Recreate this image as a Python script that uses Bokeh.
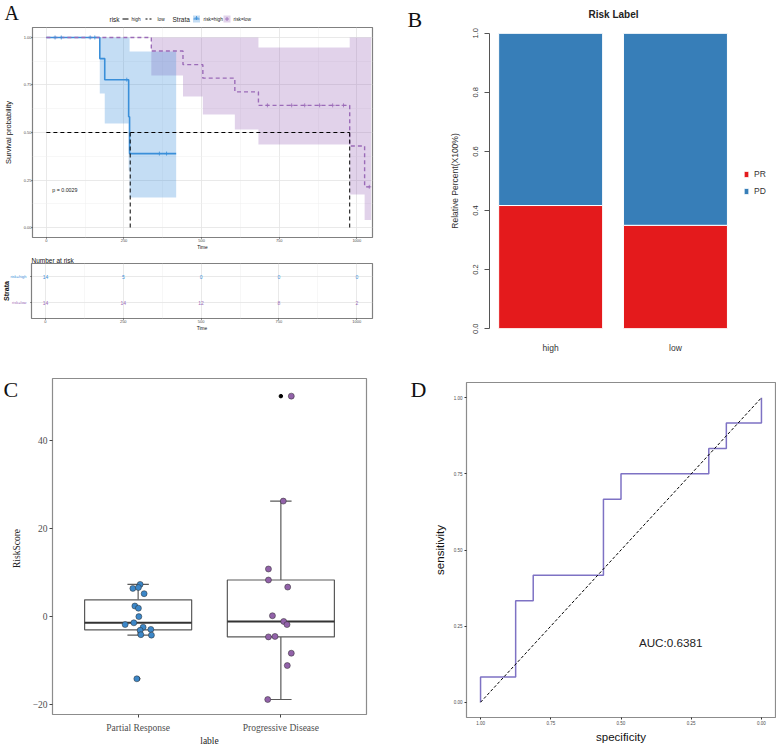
import numpy as np
from bokeh.plotting import figure
from bokeh.models import Range1d, FixedTicker, Legend, LegendItem, NumeralTickFormatter
from bokeh.layouts import row, column
from bokeh.embed import file_html
from bokeh.resources import INLINE
from bokeh.core.properties import value

SANS = "Liberation Sans"
SERIF = "Liberation Serif"
BLUE = "#3A8FD9"
PURPLE = "#9B6BB8"

# ---------------- Panel A : Kaplan-Meier ----------------
time_ticks = [0, 250, 500, 750, 1000]
surv_ticks = [0.0, 0.25, 0.5, 0.75, 1.0]
high_time = [0, 172, 188, 265, 268, 418]
high_surv = [1.0, 0.889, 0.778, 0.583, 0.389, 0.389]
high_lower = [1.0, 0.705, 0.547, 0.30, 0.158, 0.158]
high_upper = [1.0, 1.0, 1.0, 1.0, 0.926, 0.926]
high_censor_time = [28, 48, 141, 156, 259, 364, 387]
high_censor_surv = [1.0, 1.0, 1.0, 1.0, 0.778, 0.389, 0.389]
low_time = [0, 338, 440, 504, 607, 683, 977, 1025, 1046]
low_surv = [1.0, 0.929, 0.857, 0.786, 0.714, 0.643, 0.429, 0.214, 0.214]
low_lower = [1.0, 0.80, 0.69, 0.595, 0.516, 0.437, 0.174, 0.04, 0.04]
low_upper = [1.0, 1.0, 1.0, 1.0, 1.0, 0.947, 1.0, 1.0, 1.0]
low_censor_time = [712, 790, 832, 880, 922, 957, 1040]
low_censor_surv = [0.643, 0.643, 0.643, 0.643, 0.643, 0.643, 0.214]
median_high = 270
median_low = 977
p_value_text = "p = 0.0029"
p_value_pos = (19, 0.195)
strata_labels = ["risk=high", "risk=low"]
risk_counts_high = [14, 5, 0, 0, 0]
risk_counts_low = [14, 14, 12, 8, 2]

# ---------------- Panel B : stacked bars ----------------
risk_groups = ["high", "low"]
pr_frac = [0.417, 0.350]
pd_frac = [round(1 - v, 3) for v in pr_frac]
b_ticks = [0.0, 0.2, 0.4, 0.6, 0.8, 1.0]

# ---------------- Panel C : boxplot ----------------
c_groups = ["Partial Response", "Progressive Disease"]
pr_scores = [7.3, 6.4, 6.6, 5.2, 2.4, 1.9, 0.0, -1.8, -1.4, -2.4, -3.1, -2.9, -4.1, -4.2, -14.1]
pr_jitter = [0.014, -0.037, 0.002, 0.042, -0.023, 0.002, 0.005, -0.091, -0.030, 0.035, 0.014, 0.089, 0.019, 0.093, -0.009]
pd_scores = [50.0, 26.2, 10.8, 8.3, 6.7, 0.2, -1.1, -1.8, -4.6, -4.5, -8.3, -11.1, -18.8]
pd_jitter = [0.073, 0.017, -0.087, -0.087, 0.048, -0.059, 0.020, 0.043, -0.087, -0.041, 0.073, 0.045, -0.092]
c_ticks = [-20, 0, 20, 40]

# ---------------- Panel D : ROC ----------------
roc_spec = [1.0, 1.0, 0.875, 0.875, 0.8125, 0.8125, 0.5625, 0.5625, 0.5, 0.5, 0.1875, 0.1875, 0.125, 0.125, 0.0, 0.0]
roc_sens = [0.0, 0.0833, 0.0833, 0.3333, 0.3333, 0.4167, 0.4167, 0.6667, 0.6667, 0.75, 0.75, 0.8333, 0.8333, 0.9167, 0.9167, 1.0]
chance_spec = [1.0, 0.0]
chance_sens = [0.0, 1.0]
auc_text = "AUC:0.6381"
auc_pos = (0.323, 0.197)
d_ticks = [0.0, 0.25, 0.5, 0.75, 1.0]


def mk(width, height, xr, yr, **kw):
    p = figure(width=width, height=height, x_range=xr, y_range=yr,
               output_backend="svg", toolbar_location=None, **kw)
    p.frame_align = False
    p.title.visible = False
    p.background_fill_color = "white"
    p.border_fill_color = "white"
    return p


def strip(w, h):
    """Blank figure in pixel coordinates (y downwards) for panel letters and side texts."""
    s = mk(w, h, Range1d(0, w), Range1d(h, 0), x_axis_type=None, y_axis_type=None,
           min_border_left=0, min_border_right=0, min_border_top=0, min_border_bottom=0)
    s.outline_line_color = None
    return s


def letter(s, text, x, y, size="22px", baseline="alphabetic"):
    s.text(x=[x], y=[y], text=[text], text_font=value(SERIF), text_font_size=size,
           text_baseline=baseline, text_color="#111111")


def steps(t, *ys):
    xs = []
    outs = [[] for _ in ys]
    for i in range(len(t)):
        if i > 0:
            xs.append(t[i])
            for o, y in zip(outs, ys):
                o.append(y[i - 1])
        xs.append(t[i])
        for o, y in zip(outs, ys):
            o.append(y[i])
    return [xs] + outs


def mids(ticks):
    return [(a + b) / 2 for a, b in zip(ticks[:-1], ticks[1:])]


def gg_style(p, tick_font="4px"):
    p.outline_line_color = "#808080"
    p.outline_line_width = 1.2
    for ax in p.axis:
        ax.axis_line_color = None
        ax.major_tick_out = 1
        ax.major_tick_in = 0
        ax.minor_tick_out = 0
        ax.minor_tick_in = 0
        ax.major_tick_line_color = "#333333"
        ax.major_label_text_font = SANS
        ax.major_label_text_font_size = tick_font
        ax.major_label_text_color = "#4D4D4D"
        ax.major_label_standoff = 0
        ax.axis_label_text_font = SANS
        ax.axis_label_text_font_style = "normal"
        ax.axis_label_text_color = "#111111"


# ---- A legend strip (pixel coordinates)
pAL = strip(390, 27)
letter(pAL, "A", 4, 1.5, size="20px", baseline="top")
pAL.text(x=[109, 172], y=[18.5, 18.5], text=["risk", "Strata"], text_font=value(SANS),
         text_font_size="6.5px", text_baseline="middle", text_color="#222222")
pAL.text(x=[131, 157, 203, 233], y=[18.5] * 4, text=["high", "low", "risk=high", "risk=low"],
         text_font=value(SANS), text_font_size="4.8px", text_baseline="middle", text_color="#222222")
pAL.segment(x0=[122], x1=[128], y0=[18.5], y1=[18.5], line_color="black", line_width=1.2)
pAL.segment(x0=[145], x1=[153], y0=[18.5], y1=[18.5], line_color="black", line_width=1.2, line_dash="2 2")
pAL.rect(x=[196, 226.5], y=[18.5, 18.5], width=7, height=7, fill_color=[BLUE, PURPLE], fill_alpha=0.3,
         line_color=None)
pAL.segment(x0=[193], x1=[199], y0=[18.5], y1=[18.5], line_color=BLUE, line_width=1)
pAL.scatter(x=[196, 226.5], y=[17.5, 18.5], marker="cross", size=4, line_color=[BLUE, PURPLE], line_width=0.8)

# ---- A survival plot
pA = mk(390, 227, Range1d(-44.7, 1050.4), Range1d(-0.0526, 1.0526),
        min_border_left=29, min_border_right=18, min_border_top=0, min_border_bottom=17)
gg_style(pA)
pA.xaxis.ticker = FixedTicker(ticks=time_ticks, minor_ticks=mids(time_ticks))
pA.yaxis.ticker = FixedTicker(ticks=surv_ticks, minor_ticks=mids(surv_ticks))
pA.yaxis.formatter = NumeralTickFormatter(format="0.00")
pA.xaxis.axis_label = "Time"
pA.xaxis.axis_label_text_font_size = "4.8px"
pA.xaxis.axis_label_standoff = 0
pA.yaxis.axis_label = "Survival probability"
pA.yaxis.axis_label_text_font_size = "7.5px"
pA.yaxis.axis_label_standoff = 8
pA.grid.grid_line_color = "#E3E3E3"
pA.grid.grid_line_width = 0.8
pA.grid.minor_grid_line_color = "#EFEFEF"
pA.grid.minor_grid_line_width = 0.5

lx, llo, lhi = steps(low_time, low_lower, low_upper)
pA.varea(x=lx, y1=llo, y2=lhi, fill_color=PURPLE, fill_alpha=0.3)
hx, hlo, hhi = steps(high_time, high_lower, high_upper)
pA.varea(x=hx, y1=hlo, y2=hhi, fill_color=BLUE, fill_alpha=0.3)
hsx, hsy = steps(high_time, high_surv)
pA.line(hsx, hsy, line_color=BLUE, line_width=1.6)
lsx, lsy = steps(low_time, low_surv)
pA.line(lsx, lsy, line_color=PURPLE, line_width=1.4, line_dash="4 3")
pA.scatter(high_censor_time, high_censor_surv, marker="cross", size=4, line_color=BLUE, line_width=0.8)
pA.scatter(low_censor_time, low_censor_surv, marker="cross", size=4, line_color=PURPLE, line_width=0.8)
pA.segment(x0=[0, median_high, median_low], y0=[0.5, 0.5, 0.5],
           x1=[median_low, median_high, median_low], y1=[0.5, 0.0, 0.0],
           line_color="black", line_width=1, line_dash="4 3")
pA.text(x=[p_value_pos[0]], y=[p_value_pos[1]], text=[p_value_text], text_font=value(SANS),
        text_font_size="5.3px", text_baseline="middle", text_color="#222222")

# ---- A risk table (strip with strata names + table figure)
sT = strip(27, 110)
sT.text(x=[6], y=[36.5], text=["Strata"], angle=np.pi / 2, text_font=value(SANS), text_font_size="7px",
        text_font_style="bold", text_align="center", text_baseline="middle", text_color="#111111")
sT.text(x=[26, 26], y=[22, 48], text=strata_labels, text_font=value(SANS), text_font_size="4px",
        text_align="right", text_baseline="middle", text_color=[BLUE, PURPLE])

pT = mk(363, 110, Range1d(-44.7, 1050.4), Range1d(0.385, 2.5),
        min_border_left=2, min_border_right=18, min_border_top=9, min_border_bottom=46)
pT.title.visible = True
pT.title.text = "Number at risk"
pT.title.text_font = SANS
pT.title.text_font_size = "6.5px"
pT.title.text_font_style = "normal"
pT.title.standoff = 0
pT.title.text_color = "#111111"
gg_style(pT)
pT.xaxis.ticker = FixedTicker(ticks=time_ticks, minor_ticks=mids(time_ticks))
pT.yaxis.ticker = FixedTicker(ticks=[1, 2], minor_ticks=[])
pT.yaxis.major_label_overrides = {1: " ", 2: " "}
pT.yaxis.major_label_text_font_size = "1px"
pT.xaxis.axis_label = "Time"
pT.xaxis.axis_label_text_font_size = "4.8px"
pT.xaxis.axis_label_standoff = 0
pT.grid.grid_line_color = "#E3E3E3"
pT.grid.grid_line_width = 0.8
pT.xgrid.minor_grid_line_color = "#EFEFEF"
pT.xgrid.minor_grid_line_width = 0.5
pT.text(x=time_ticks, y=[2] * len(time_ticks), text=[str(v) for v in risk_counts_high],
        text_font=value(SANS), text_font_size="5px", text_align="center", text_baseline="middle",
        text_color=BLUE)
pT.text(x=time_ticks, y=[1] * len(time_ticks), text=[str(v) for v in risk_counts_low],
        text_font=value(SANS), text_font_size="5px", text_align="center", text_baseline="middle",
        text_color=PURPLE)

# ---- B stacked bars
sB = strip(45, 364)
letter(sB, "B", 17, 18.5)
sBt = strip(341, 21)
sBt.text(x=[178], y=[14], text=["Risk Label"], text_font=value(SANS), text_font_size="10px",
         text_font_style="bold", text_align="center", text_baseline="middle", text_color="#222222")

pB = mk(341, 343, Range1d(0.112, 2.862), Range1d(-0.04, 1.04),
        min_border_left=54, min_border_right=1, min_border_top=0, min_border_bottom=24)
pB.outline_line_color = None
pB.grid.visible = False
bar_x = [0.7 + 1.2 * i for i in range(len(risk_groups))]
r_pr = pB.vbar(x=bar_x, bottom=0, top=pr_frac, width=1.0, fill_color="#E41A1C", line_color="white", line_width=1)
r_pd = pB.vbar(x=bar_x, bottom=pr_frac, top=[a + b for a, b in zip(pr_frac, pd_frac)], width=1.0,
               fill_color="#377EB8", line_color="white", line_width=1)
pB.yaxis.ticker = FixedTicker(ticks=b_ticks, minor_ticks=[])
pB.yaxis.formatter = NumeralTickFormatter(format="0.0")
pB.yaxis.bounds = (0, 1)
pB.yaxis.major_label_orientation = "vertical"
pB.yaxis.major_tick_out = 5
pB.yaxis.major_tick_in = 0
pB.yaxis.minor_tick_out = 0
pB.yaxis.minor_tick_in = 0
pB.yaxis.axis_line_color = "#555555"
pB.yaxis.major_tick_line_color = "#555555"
pB.yaxis.major_label_text_font = SANS
pB.yaxis.major_label_text_font_size = "7.5px"
pB.yaxis.major_label_text_color = "#333333"
pB.yaxis.major_label_standoff = 6
pB.yaxis.axis_label = "Relative Percent(X100%)"
pB.yaxis.axis_label_text_font = SANS
pB.yaxis.axis_label_text_font_size = "8.5px"
pB.yaxis.axis_label_text_font_style = "normal"
pB.yaxis.axis_label_text_color = "#333333"
pB.yaxis.axis_label_standoff = 11
pB.xaxis.ticker = FixedTicker(ticks=bar_x, minor_ticks=[])
pB.xaxis.major_label_overrides = {x: g for x, g in zip(bar_x, risk_groups)}
pB.xaxis.axis_line_color = None
pB.xaxis.major_tick_out = 0
pB.xaxis.major_tick_in = 0
pB.xaxis.minor_tick_out = 0
pB.xaxis.minor_tick_in = 0
pB.xaxis.major_tick_line_color = None
pB.xaxis.minor_tick_line_color = None
pB.xaxis.major_label_text_font = SANS
pB.xaxis.major_label_text_font_size = "8.5px"
pB.xaxis.major_label_text_color = "#333333"
pB.xaxis.major_label_standoff = 2
legB = Legend(items=[LegendItem(label="PR", renderers=[r_pr]), LegendItem(label="PD", renderers=[r_pd])],
              location=(254, 144), glyph_width=6, glyph_height=8, label_text_font=SANS,
              label_text_font_size="8.5px", label_text_color="#333333", spacing=7, padding=0,
              margin=0, label_standoff=5, border_line_color=None, background_fill_alpha=0)
pB.add_layout(legB)

# ---- C boxplot
sC = strip(26, 384)
letter(sC, "C", 3, 25)
sC.text(x=[16], y=[184], text=["RiskScore"], angle=np.pi / 2, text_font=value(SERIF), text_font_size="9.5px",
        text_align="center", text_baseline="middle", text_color="#222222")

pC = mk(364, 384, Range1d(0.4, 2.6), Range1d(-22.2, 54.0),
        min_border_left=26, min_border_right=24, min_border_top=14, min_border_bottom=30)
pC.outline_line_color = "#8C8C8C"
pC.outline_line_width = 1.2
pC.grid.visible = False
cat_x = [1 + i for i in range(len(c_groups))]
for cx, scores in zip(cat_x, [pr_scores, pd_scores]):
    s = np.array(scores)
    q1, med, q3 = np.percentile(s, [25, 50, 75])
    iqr = q3 - q1
    inside = s[(s >= q1 - 1.5 * iqr) & (s <= q3 + 1.5 * iqr)]
    lo, hi = float(inside.min()), float(inside.max())
    out = [float(v) for v in s[(s < q1 - 1.5 * iqr) | (s > q3 + 1.5 * iqr)]]
    q1, med, q3 = float(q1), float(med), float(q3)
    pC.segment(x0=[cx, cx], x1=[cx, cx], y0=[q3, q1], y1=[hi, lo], line_color="#5A5A5A", line_width=1.2)
    pC.segment(x0=[cx - 0.075, cx - 0.075], x1=[cx + 0.075, cx + 0.075], y0=[hi, lo], y1=[hi, lo],
               line_color="#5A5A5A", line_width=1.2)
    pC.quad(left=[cx - 0.375], right=[cx + 0.375], bottom=[q1], top=[q3], fill_color="white",
            line_color="#5A5A5A", line_width=1.2)
    pC.segment(x0=[cx - 0.375], x1=[cx + 0.375], y0=[med], y1=[med], line_color="#333333", line_width=2)
    pC.scatter([cx] * len(out), out, size=3.5, fill_color="black", line_color="black")
pC.scatter([cat_x[0] + j for j in pr_jitter], pr_scores, size=6, fill_color="#3C87C8",
           line_color="#2A2A2A", line_width=0.5)
pC.scatter([cat_x[1] + j for j in pd_jitter], pd_scores, size=6, fill_color="#9262A9",
           line_color="#2A2A2A", line_width=0.5)
pC.xaxis.ticker = FixedTicker(ticks=cat_x, minor_ticks=[])
pC.xaxis.major_label_overrides = {x: g for x, g in zip(cat_x, c_groups)}
pC.yaxis.ticker = FixedTicker(ticks=c_ticks, minor_ticks=[])
pC.yaxis.major_label_overrides = {v: (str(v) if v >= 0 else "\u2212" + str(-v)) for v in c_ticks}
for ax in pC.axis:
    ax.axis_line_color = None
    ax.major_tick_out = 3
    ax.major_tick_in = 0
    ax.minor_tick_out = 0
    ax.minor_tick_in = 0
    ax.major_tick_line_color = "#444444"
    ax.major_label_text_font = SERIF
    ax.major_label_text_font_size = "9.5px"
    ax.major_label_text_color = "#4D4D4D"
    ax.axis_label_text_font = SERIF
    ax.axis_label_text_font_size = "9.5px"
    ax.axis_label_text_font_style = "normal"
    ax.axis_label_text_color = "#222222"
pC.xaxis.major_label_standoff = 5
pC.yaxis.major_label_standoff = 2
pC.xaxis.axis_label = "lable"
pC.xaxis.axis_label_standoff = 0

# ---- D ROC
sD = strip(40, 384)
letter(sD, "D", 20, 25)
pD = mk(346, 384, Range1d(1.05, -0.05), Range1d(-0.05, 1.05),
        min_border_left=33, min_border_right=1, min_border_top=18, min_border_bottom=31)
gg_style(pD, tick_font="4.5px")
pD.outline_line_color = "#8C8C8C"
pD.grid.visible = False
pD.xaxis.ticker = FixedTicker(ticks=d_ticks, minor_ticks=[])
pD.yaxis.ticker = FixedTicker(ticks=d_ticks, minor_ticks=[])
pD.xaxis.formatter = NumeralTickFormatter(format="0.00")
pD.yaxis.formatter = NumeralTickFormatter(format="0.00")
pD.xaxis.axis_label = "specificity"
pD.yaxis.axis_label = "sensitivity"
for ax in pD.axis:
    ax.axis_label_text_font_size = "11.5px"
    ax.major_tick_out = 2
    ax.major_label_standoff = 1
pD.yaxis.major_label_standoff = 2
pD.xaxis.axis_label_standoff = 3
pD.yaxis.axis_label_standoff = 5
pD.line(roc_spec, roc_sens, line_color="#7E72C4", line_width=1.5)
pD.line(chance_spec, chance_sens, line_color="black", line_width=1, line_dash="3 2")
pD.text(x=[auc_pos[0]], y=[auc_pos[1]], text=[auc_text], text_font=value(SANS), text_font_size="11.7px",
        text_align="center", text_baseline="middle", text_color="#222222")

left_col = column(pAL, pA, row(sT, pT), row(sC, pC))
right_col = column(row(sB, column(sBt, pB)), row(sD, pD))
layout = row(left_col, right_col)
open("out.html", "w").write(file_html(layout, INLINE))
